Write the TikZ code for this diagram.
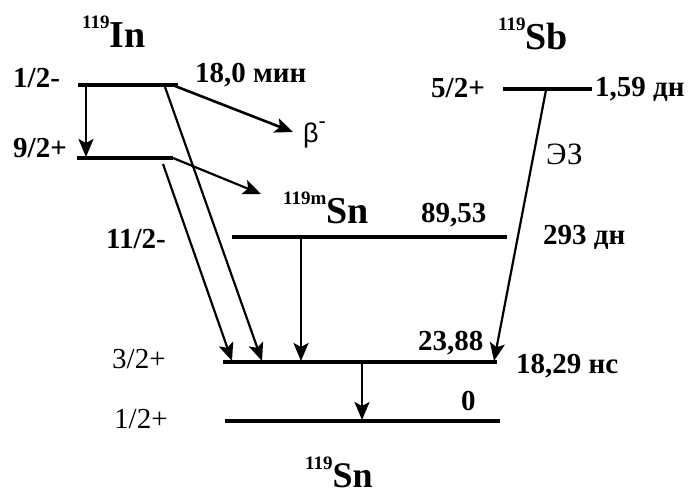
\documentclass[tikz,border=0pt]{standalone}
\usepackage{fontspec}
\setmainfont{Liberation Serif}
\newfontfamily\grk{Liberation Sans}
\usetikzlibrary{arrows.meta}
\newcommand{\iso}[2]{\raisebox{0.5em}{\fontsize{19}{19}\selectfont #1}#2}
\begin{document}
\begin{tikzpicture}[x=1pt, y=-1pt,
  lvl/.style={line width=#1},
  lvl/.default=4.5pt,
  tr/.style={-{Stealth[length=18pt, width=15pt, inset=4pt]}, line width=#1},
  tr/.default=2.2pt,
  lab/.style={font=\fontsize{29}{31}\selectfont\bfseries, inner sep=0pt, anchor=base west},
  lab0/.style={font=\fontsize{29}{31}\selectfont, inner sep=0pt, anchor=base west},
  nuc/.style={font=\fontsize{38}{40}\selectfont\bfseries, inner sep=0pt, anchor=base west},
]
\useasboundingbox (0,0) rectangle (699,495);

% levels
\coordinate (inA) at (78,85);   \coordinate (inB) at (178,85);
\coordinate (inC) at (77,158);  \coordinate (inD) at (173,158);
\coordinate (snmA) at (232,237); \coordinate (snmB) at (507,237);
\coordinate (sbA) at (503,89);  \coordinate (sbB) at (592,89);
\coordinate (s1A) at (223,362); \coordinate (s1B) at (497,362);
\coordinate (s0A) at (225,421); \coordinate (s0B) at (500,421);

\draw[lvl] (inA) -- (inB);
\draw[lvl] (inC) -- (inD);
\draw[lvl] (snmA) -- (snmB);
\draw[lvl] (sbA) -- (sbB);
\draw[lvl=3.2pt] (s1A) -- (s1B);
\draw[lvl=3.2pt] (s0A) -- (s0B);

% transitions
\coordinate (beta) at (293,132);
\coordinate (snm) at (261,194);
\draw[tr=2.6pt] (86,85) -- (86,157);
\draw[tr=2.6pt] (175,86) -- (beta);
\draw[tr] (173,158) -- (snm);
\draw[tr] (165,87) -- (262,361);
\draw[tr] (163,164) -- (232,361);
\draw[tr] (546,90) -- (494,361);
\draw[tr=2.6pt] (301,238) -- (301,361);
\draw[tr=2.6pt] (362,363) -- (362,420);

% labels
\node[nuc] (In) at (82,48) {\iso{119}{In}};
\node[nuc] (Sb) at (498,50) {\iso{119}{Sb}};
\node[nuc] (Snm) at (283,223) {\iso{119m}{Sn}};
\node[nuc, font=\fontsize{36}{38}\selectfont\bfseries] (Sn) at (305,487) {\iso{119}{Sn}};

\node[lab] (jIn) at (13,88) {1/2-};
\node[lab] (tIn) at (195,83) {18,0 мин};
\node[lab] (jIn2) at (13,157) {9/2+};
\node[lab0, font=\fontsize{27}{29}\selectfont\grk] (b) at (303,142) {β\raisebox{0.5em}{\fontsize{22}{22}\selectfont -}};
\node[lab] (jSnm) at (106,248) {11/2-};
\node[lab] (eSnm) at (421,222) {89,53};
\node[lab] (tSnm) at (543,244) {293 дн};
\node[lab] (jSb) at (431,98) {5/2+};
\node[lab] (tSb) at (595,96) {1,59 дн};
\node[lab0, font=\fontsize{31}{33}\selectfont] (ec) at (546,164) {ЭЗ};
\node[lab0] (j1) at (112,368) {3/2+};
\node[lab] (e1) at (418,350) {23,88};
\node[lab] (t1) at (516,373) {18,29 нс};
\node[lab0] (j0) at (114,428) {1/2+};
\node[lab] (e0) at (461,410) {0};
\end{tikzpicture}
\end{document}
